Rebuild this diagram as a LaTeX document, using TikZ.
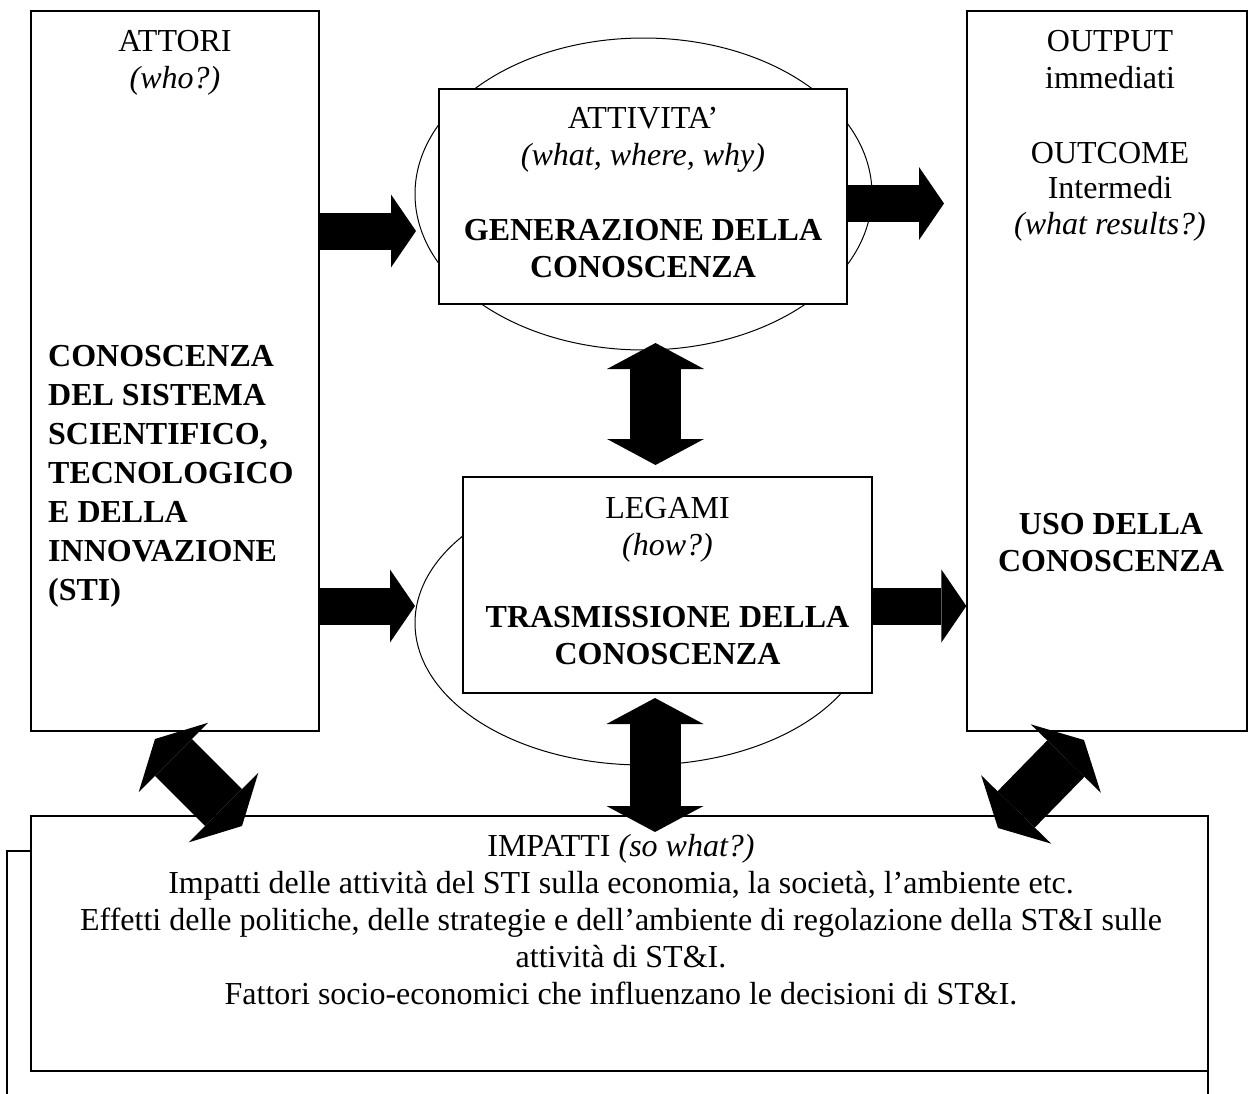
\documentclass[tikz,border=0pt]{standalone}
\usepackage{fontspec}
\setmainfont{Liberation Serif}
\usetikzlibrary{arrows.meta,shapes.geometric}

\newcommand{\Txt}{\fontsize{32}{37}\selectfont}
\tikzset{
    Box/.style={draw=black, line width=1.3pt, fill=white, inner sep=0pt},
    Blob/.style={ellipse, draw=black, line width=1pt, inner sep=0pt},
    lbl/.style={font=\Txt, align=center, inner sep=0pt, anchor=base},
    flow/.style={line width=37pt,
        -{Triangle[length=25pt,width=73pt,line width=0pt]}},
    link/.style={line width=51pt,
        {Triangle[length=26pt,width=97pt,line width=0pt]}-{Triangle[length=26pt,width=97pt,line width=0pt]}},
    tilt/.style={line width=52pt,
        {Triangle[length=26pt,width=98pt,line width=0pt]}-{Triangle[length=26pt,width=98pt,line width=0pt]}},
}

\begin{document}
\begin{tikzpicture}[x=1pt,y=-1pt]
\useasboundingbox (0,0) rectangle (1251,1093);
\clip (0,0) rectangle (1251,1093);

% ellipses behind the boxes
\node [Blob, minimum width=457pt, minimum height=312pt] (genblob) at (643.5,194) {};
\node [Blob, minimum width=456pt, minimum height=284pt] (trasblob) at (643,623) {};

% boxes
\node [Box, minimum width=288pt, minimum height=720pt] (attori) at (175,371) {};
\node [Box, minimum width=280pt, minimum height=720pt] (output) at (1107,371) {};
\node [Box, minimum width=408pt, minimum height=215pt] (attivita) at (643,196.5) {};
\node [Box, minimum width=409pt, minimum height=216pt] (legami) at (667.5,585) {};
\draw [line width=1.3pt] (7,851) rectangle (1208,1120);
\node [Box, minimum width=1177pt, minimum height=255pt] (impatti) at (619.5,943.5) {};

% texts (base = last line)
\node [lbl] (attoriT) at (175,88) {ATTORI\\\textit{(who?)}};
\node [lbl, align=left, anchor=base west, font=\fontsize{32}{39}\selectfont\bfseries]
    (attoriB) at (48,600) {CONOSCENZA\\DEL SISTEMA\\SCIENTIFICO,\\TECNOLOGICO\\E DELLA\\INNOVAZIONE\\(STI)};
\node [lbl] (attivitaT) at (643,165) {ATTIVITA’\\\textit{(what, where, why)}};
\node [lbl, font=\Txt\bfseries] (attivitaB) at (643,277) {GENERAZIONE DELLA\\CONOSCENZA};
\node [lbl] (outputT) at (1110,88) {OUTPUT\\immediati};
\node [lbl, font=\fontsize{32}{35.5}\selectfont] (outcomeT) at (1110,234) {OUTCOME\\Intermedi\\\textit{(what results?)}};
\node [lbl, font=\Txt\bfseries] (outputB) at (1111,571) {USO DELLA\\CONOSCENZA};
\node [lbl] (legamiT) at (667.5,555) {LEGAMI\\\textit{(how?)}};
\node [lbl, font=\Txt\bfseries] (legamiB) at (667.5,664) {TRASMISSIONE DELLA\\CONOSCENZA};
\node [lbl] (impattiT) at (621,1004) {IMPATTI \textit{(so what?)}\\
    Impatti delle attività del STI sulla economia, la società, l’ambiente etc.\\
    Effetti delle politiche, delle strategie e dell’ambiente di regolazione della ST\&I sulle\\
    attività di ST\&I.\\
    Fattori socio-economici che influenzano le decisioni di ST\&I.};

% arrow ends
\coordinate (genIn) at (416,231);
\coordinate (genOut) at (944,203.5);
\coordinate (trasIn) at (415,606);
\coordinate (trasOut) at (968,606);
\coordinate (upA) at (655.5,343);
\coordinate (upB) at (655.5,465);
\coordinate (downA) at (655,698);
\coordinate (downB) at (655,832);
\coordinate (leftA) at (155,739);
\coordinate (leftB) at (242,826);
\coordinate (rightA) at (1084,740);
\coordinate (rightB) at (998,828);

% block arrows
\draw [flow] (attori.east |- genIn) -- (genIn);
\draw [flow] (attivita.east |- genOut) -- (genOut);
\draw [flow] (attori.east |- trasIn) -- (trasIn);
\draw [flow] (legami.east |- trasOut) -- (output.west |- trasOut);
\draw [link] (upA) -- (upB);
\draw [link] (downA) -- (downB);
\draw [tilt] (leftA) -- (leftB);
\draw [tilt] (rightA) -- (rightB);
\end{tikzpicture}
\end{document}
